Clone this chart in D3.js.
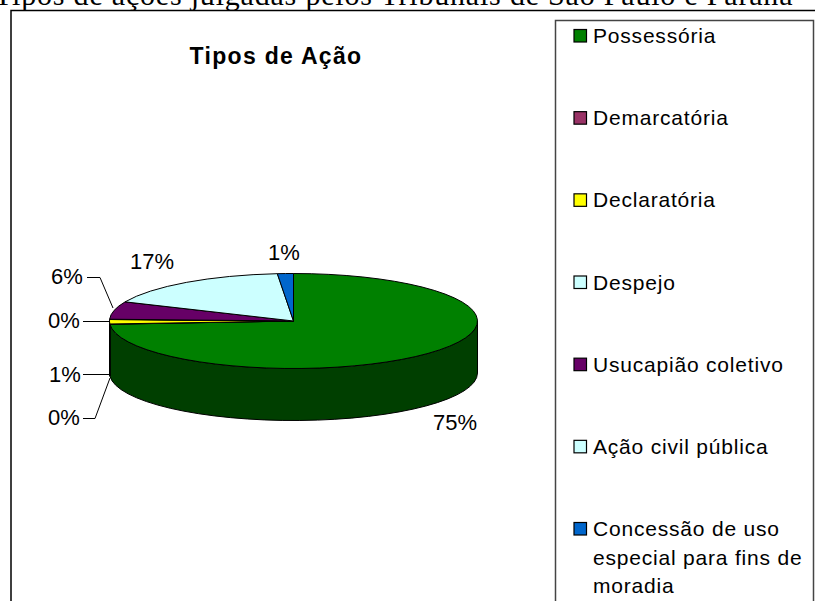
<!doctype html>
<html>
<head>
  <meta charset="utf-8">
  <script src="https://d3js.org/d3.v7.min.js"></script>
  <style>
    html, body { margin: 0; padding: 0; background: #fff; overflow: hidden; }
    text { font-family: "Liberation Sans", Arial, sans-serif; fill: #000; }
  </style>
</head>
<body>
  <div id="viz"></div>
  <script>
  // values
  var categories = ["Possessória", "Demarcatória", "Declaratória", "Despejo", "Usucapião coletivo", "Ação civil pública", "Concessão de uso especial para fins de moradia"];
  var values = [73.9, 0.1, 1.5, 0.1, 6, 17, 1.4];
  var valueLabels = ["75%", "0%", "1%", "0%", "6%", "17%", "1%"];
  var topColors = ["#008000", "#993366", "#ffff00", "#ccffff", "#660066", "#ccffff", "#0066cc"];
  var sideColors = ["#003f00", "#4c1933", "#7f7f00", "#667f7f", "#330033", "#667f7f", "#003366"];
  var legendLines = [["Possessória"], ["Demarcatória"], ["Declaratória"], ["Despejo"], ["Usucapião coletivo"], ["Ação civil pública"], ["Concessão de uso", "especial para fins de", "moradia"]];

  var width = 815, height = 601;
  var cx = 293.5, cy = 321, rx = 184, ry = 47.5, depth = 52;
  var squash = ry / rx;

  var svg = d3.select("#viz").append("svg")
      .attr("width", width)
      .attr("height", height)
      .style("display", "block");

  // page heading, cut by the top of the window
  svg.append("text")
      .attr("x", -6).attr("y", 5)
      .style("font-family", "'Liberation Serif', 'Times New Roman', serif")
      .style("font-size", "30px")
      .style("letter-spacing", "0.8px")
      .text("Tipos de ações julgadas pelos Tribunais de São Paulo e Paraná");

  // chart frame
  svg.append("path")
      .attr("d", "M11,601V10.5H815")
      .attr("fill", "none").attr("stroke", "#000").attr("stroke-width", 1.5);

  svg.append("text")
      .attr("x", 276).attr("y", 64)
      .attr("text-anchor", "middle")
      .style("font-size", "23px")
      .style("font-weight", "bold")
      .style("letter-spacing", "1.3px")
      .text("Tipos de Ação");

  // pie angles, clockwise from 12 o'clock
  var pie = d3.pie().sort(null).value(function(d) { return d; });
  var slices = pie(values);

  var radius = d3.scaleLinear().domain([0, 1]).range([0, rx]);
  var arc = d3.arc().innerRadius(0).outerRadius(radius(1));

  // everything drawn as a circle, then squashed into the ellipse
  var g = svg.append("g")
      .attr("transform", "translate(" + cx + "," + cy + ") scale(1," + squash + ")");

  // side wall, only the part facing the viewer
  function wall(d) {
    var a0 = Math.max(d.startAngle, Math.PI / 2) - Math.PI / 2,
        a1 = Math.min(d.endAngle, Math.PI * 1.5) - Math.PI / 2,
        drop = depth / squash,
        p = d3.path();
    if (a1 <= a0) return "";
    p.moveTo(rx * Math.cos(a0), rx * Math.sin(a0));
    p.arc(0, 0, rx, a0, a1);
    p.lineTo(rx * Math.cos(a1), rx * Math.sin(a1) + drop);
    p.arc(0, drop, rx, a1, a0, true);
    p.closePath();
    return p.toString();
  }

  g.selectAll("path.wall")
      .data(slices)
      .enter()
      .append("path")
      .attr("class", "wall")
      .attr("d", wall)
      .attr("fill", function(d, i) { return sideColors[i]; })
      .attr("stroke", "#000")
      .attr("stroke-width", 1)
      .attr("vector-effect", "non-scaling-stroke");

  g.selectAll("path.top")
      .data(slices)
      .enter()
      .append("path")
      .attr("class", "top")
      .attr("d", arc)
      .attr("fill", function(d, i) { return topColors[i]; })
      .attr("stroke", "#000")
      .attr("stroke-width", 1)
      .attr("vector-effect", "non-scaling-stroke");

  // percent labels, in the same order as the values
  var labelSpots = [[455, 430], [64, 425], [65, 382], [64, 328], [67, 284], [152, 269], [284, 260]];
  svg.selectAll("text.pct")
      .data(valueLabels)
      .enter()
      .append("text")
      .attr("class", "pct")
      .attr("x", function(d, i) { return labelSpots[i][0]; })
      .attr("y", function(d, i) { return labelSpots[i][1]; })
      .attr("text-anchor", "middle")
      .style("font-size", "22px")
      .text(function(d) { return d; });

  // leader lines
  var leaders = ["M83,418.5H95L110,378", "M83,374.5H110", "M83,321.5H110", "M87,277.5H100L113,308"];
  svg.selectAll("path.leader")
      .data(leaders)
      .enter()
      .append("path")
      .attr("class", "leader")
      .attr("d", function(d) { return d; })
      .attr("fill", "none")
      .attr("stroke", "#000")
      .attr("stroke-width", 1);

  // legend
  svg.append("path")
      .attr("d", "M555.5,601V20.5H813.5V601")
      .attr("fill", "none").attr("stroke", "#444").attr("stroke-width", 1.5);

  var legendY = d3.scalePoint().domain(categories).range([36, 529]);
  var legend = svg.selectAll("g.item")
      .data(categories)
      .enter()
      .append("g")
      .attr("class", "item")
      .attr("transform", function(d) { return "translate(574," + legendY(d) + ")"; });

  legend.append("rect")
      .attr("x", 0).attr("y", -6.5)
      .attr("width", 12.5).attr("height", 12.5)
      .attr("fill", function(d, i) { return topColors[i]; })
      .attr("stroke", "#000")
      .attr("stroke-width", 1.2);

  legend.each(function(d, i) {
    d3.select(this).selectAll("text")
        .data(legendLines[i])
        .enter()
        .append("text")
        .attr("x", 19)
        .attr("y", function(t, j) { return 7 + j * 28.5; })
        .style("font-size", "21px")
        .style("letter-spacing", "0.8px")
        .text(function(t) { return t; });
  });
  </script>
</body>
</html>
